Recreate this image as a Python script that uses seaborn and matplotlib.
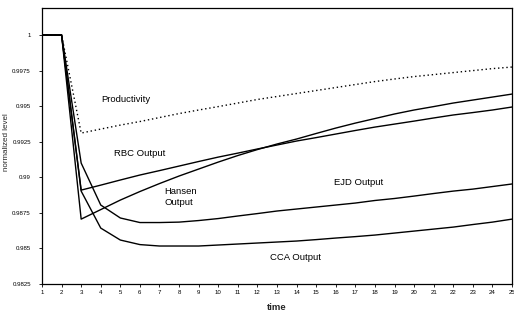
import matplotlib
matplotlib.use("Agg")
import matplotlib.pyplot as plt
import seaborn as sns
import pandas as pd

sns.set_style("ticks")
plt.rcParams['font.family'] = ['Liberation Sans', 'DejaVu Sans']

time = list(range(1, 26))

productivity = [1.0, 1.0, 0.99311, 0.99339, 0.99367, 0.99392, 0.99420, 0.99448, 0.99473,
                0.99497, 0.99522, 0.99547, 0.99568, 0.99589, 0.99610, 0.99631, 0.99652,
                0.99673, 0.99691, 0.99708, 0.99722, 0.99736, 0.99750, 0.99764, 0.99775]
rbc_output = [1.0, 1.0, 0.98910, 0.98945, 0.98981, 0.99016, 0.99047, 0.99079, 0.99111,
              0.99142, 0.99170, 0.99199, 0.99227, 0.99255, 0.99279, 0.99304, 0.99329,
              0.99353, 0.99374, 0.99395, 0.99417, 0.99438, 0.99455, 0.99473, 0.99494]
hansen_output = [1.0, 1.0, 0.98706, 0.98773, 0.98840, 0.98900, 0.98956, 0.99009, 0.99058,
                 0.99107, 0.99153, 0.99195, 0.99234, 0.99269, 0.99308, 0.99346, 0.99381,
                 0.99413, 0.99445, 0.99473, 0.99497, 0.99522, 0.99543, 0.99564, 0.99585]
ejd_output = [1.0, 1.0, 0.99100, 0.98805, 0.98714, 0.98682, 0.98682, 0.98685, 0.98696,
              0.98710, 0.98728, 0.98745, 0.98763, 0.98777, 0.98791, 0.98805, 0.98819,
              0.98837, 0.98851, 0.98868, 0.98886, 0.98903, 0.98917, 0.98935, 0.98953]
cca_output = [1.0, 1.0, 0.98903, 0.98643, 0.98559, 0.98527, 0.98517, 0.98517, 0.98517,
              0.98524, 0.98531, 0.98538, 0.98545, 0.98552, 0.98562, 0.98573, 0.98583,
              0.98594, 0.98608, 0.98622, 0.98636, 0.98650, 0.98668, 0.98685, 0.98706]

series_names = ["Productivity", "RBC Output", "Hansen Output", "EJD Output", "CCA Output"]
series_values = [productivity, rbc_output, hansen_output, ejd_output, cca_output]

y_ticks = [0.9825, 0.985, 0.9875, 0.99, 0.9925, 0.995, 0.9975, 1.0]
y_tick_labels = ["0.9825", "0.985", "0.9875", "0.99", "0.9925", "0.995", "0.9975", "1"]
x_ticks = list(range(1, 26))

# label annotations: (text, x, y, ha)
annotations = [
    ("Productivity", 5.29, 0.99550, "center"),
    ("RBC Output", 6.0, 0.99170, "center"),
    ("Hansen\nOutput", 7.25, 0.98861, "left"),
    ("EJD Output", 17.19, 0.98960, "center"),
    ("CCA Output", 13.97, 0.98439, "center"),
]

rows = []
for name, vals in zip(series_names, series_values):
    for t, v in zip(time, vals):
        rows.append({"time": t, "level": v, "series": name})
df = pd.DataFrame(rows)

fig = plt.figure(figsize=(5.14, 3.16), dpi=100)
ax = fig.add_axes([42 / 514, 32 / 316, 470 / 514, 276 / 316])

for name in series_names:
    sub = df[df["series"] == name]
    ls = (0, (1, 2)) if name == "Productivity" else "-"
    sns.lineplot(data=sub, x="time", y="level", ax=ax, color="black",
                 linewidth=1.0, linestyle=ls, legend=False)

for text, x, y, ha in annotations:
    ax.text(x, y, text, ha=ha, va="center", fontsize=6.8, color="black")

ax.set_xlim(1, 25)
ax.set_ylim(0.9825, 1.0019)
ax.set_yticks(y_ticks)
ax.set_yticklabels(y_tick_labels)
ax.set_xticks(x_ticks)
ax.set_xticklabels([str(t) for t in x_ticks])
ax.tick_params(axis="both", labelsize=4.4, length=2, width=0.6, colors="black")
ax.tick_params(axis="y", pad=6)
ax.tick_params(axis="x", pad=2.5)
ax.set_xlabel("time", fontsize=6.8, fontweight="bold")
ax.xaxis.set_label_coords(0.5, -0.07)
ax.set_ylabel("normalized level", fontsize=5.8)
ax.yaxis.set_label_coords(-0.068, 0.514)
for sp in ax.spines.values():
    sp.set_visible(True)
    sp.set_color("black")
    sp.set_linewidth(0.9)

fig.savefig("out.png", dpi=100, facecolor="white")
